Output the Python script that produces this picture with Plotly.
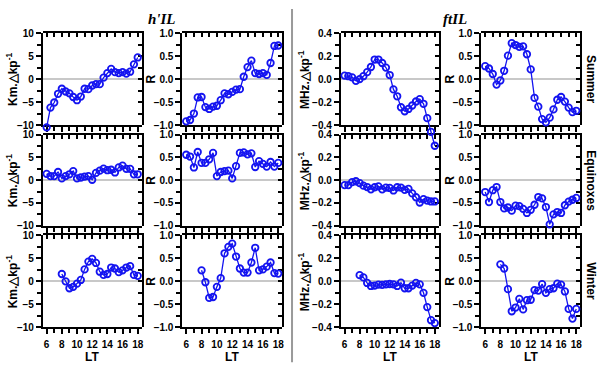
import plotly.graph_objects as go

# local time (hours)
lt = [6, 6.5, 7, 7.5, 8, 8.5, 9, 9.5, 10, 10.5, 11, 11.5, 12,
      12.5, 13, 13.5, 14, 14.5, 15, 15.5, 16, 16.5, 17, 17.5, 18]
lt_winter = lt[4:]

# h'IL : slope (Km/kp) and correlation R
hil_summer_slope = [-10.5, -6.2, -5.1, -3.2, -2.1, -2.7, -3.1, -3.9, -4.6, -3.8, -2.1, -2.2, -1.4,
                    -1.1, -1.1, 0.3, 1.3, 2.2, 1.5, 1.3, 1.5, 1.2, 1.6, 3.2, 4.7]
hil_summer_r = [-0.92, -0.89, -0.75, -0.40, -0.39, -0.61, -0.65, -0.60, -0.58, -0.46, -0.31, -0.33, -0.28,
                -0.23, -0.22, 0.05, 0.26, 0.40, 0.13, 0.11, 0.13, 0.09, 0.35, 0.72, 0.73]
hil_equinox_slope = [1.4, 0.9, 0.9, 1.8, 0.4, 0.9, 1.3, 2.0, 0.4, 0.6, 0.8, 0.9, 0.1,
                     1.6, 2.1, 2.55, 2.2, 2.3, 1.7, 2.8, 3.2, 2.5, 2.5, 1.3, 1.3]
hil_equinox_r = [0.56, 0.52, 0.28, 0.62, 0.38, 0.38, 0.46, 0.60, 0.09, 0.18, 0.20, 0.21, 0.04,
                 0.31, 0.60, 0.61, 0.57, 0.59, 0.29, 0.42, 0.36, 0.30, 0.40, 0.30, 0.38]
hil_winter_slope = [1.6, 0.0, -1.5, -1.2, -0.5, 0.3, 2.6, 4.3, 4.9, 4.0, 2.1, 1.4, 1.6,
                    3.0, 2.8, 2.0, 2.4, 3.0, 3.3, 1.4, 1.2]
hil_winter_r = [0.24, -0.02, -0.36, -0.34, -0.12, 0.07, 0.61, 0.75, 0.82, 0.54, 0.28, 0.19, 0.19,
                0.41, 0.73, 0.24, 0.26, 0.32, 0.41, 0.18, 0.17]

# ftIL : slope (MHz/kp) and correlation R
ftil_summer_slope = [0.03, 0.025, 0.015, -0.015, 0.0, 0.025, 0.06, 0.105, 0.17, 0.17, 0.14, 0.10, 0.035,
                     -0.09, -0.15, -0.245, -0.28, -0.26, -0.23, -0.195, -0.175, -0.215, -0.34, -0.46, -0.58]
ftil_summer_r = [0.28, 0.23, 0.11, -0.12, -0.03, 0.18, 0.51, 0.78, 0.74, 0.70, 0.71, 0.54, 0.21,
                 -0.41, -0.60, -0.87, -0.94, -0.84, -0.66, -0.45, -0.39, -0.49, -0.62, -0.72, -0.69]
ftil_equinox_slope = [-0.043, -0.043, -0.017, -0.009, -0.026, -0.048, -0.06, -0.08, -0.062, -0.054, -0.08,
                      -0.065, -0.068, -0.09, -0.062, -0.065, -0.085, -0.077, -0.116, -0.15, -0.196,
                      -0.167, -0.18, -0.187, -0.187]
ftil_equinox_r = [-0.26, -0.48, -0.22, -0.15, -0.48, -0.62, -0.60, -0.67, -0.56, -0.57, -0.63, -0.72, -0.65,
                  -0.54, -0.37, -0.40, -0.59, -0.97, -0.75, -0.70, -0.72, -0.55, -0.47, -0.43, -0.39]
ftil_winter_slope = [0.054, 0.034, -0.014, -0.04, -0.037, -0.028, -0.031, -0.026, -0.023, -0.026, -0.04,
                     -0.011, -0.06, -0.06, -0.037, -0.014, -0.026, -0.10, -0.224, -0.338, -0.363]
ftil_winter_r = [0.37, 0.28, -0.17, -0.65, -0.57, -0.38, -0.61, -0.41, -0.40, -0.19, -0.20, -0.06, -0.25,
                 -0.17, -0.15, -0.05, -0.07, -0.22, -0.60, -0.81, -0.60]

seasons = ["Summer", "Equinoxes", "Winter"]
col_kinds = ["km", "r", "mhz", "r"]
ytitles = ["Km.\u25b3kp<sup>-1</sup>", "R", "MHz.\u25b3kp<sup>-1</sup>", "R"]

grid = [
    [(lt, hil_summer_slope), (lt, hil_summer_r), (lt, ftil_summer_slope), (lt, ftil_summer_r)],
    [(lt, hil_equinox_slope), (lt, hil_equinox_r), (lt, ftil_equinox_slope), (lt, ftil_equinox_r)],
    [(lt_winter, hil_winter_slope), (lt_winter, hil_winter_r),
     (lt_winter, ftil_winter_slope), (lt_winter, ftil_winter_r)],
]

scales = {
    "km": dict(range=[-10, 10], dtick=5, minor=2.5, fmt="d"),
    "r": dict(range=[-1, 1], dtick=0.5, minor=0.25, fmt=".1f"),
    "mhz": dict(range=[-0.4, 0.4], dtick=0.2, minor=0.1, fmt=".1f"),
}

W, H = 600, 373
col_px = [(43, 142), (183, 283), (342, 440), (483, 582)]
row_px = [(28, 123), (133, 227), (237, 332)]
XR = [5.5, 18.5]
BLUE = "#1414f0"
tickfont = dict(family="Liberation Sans, Arial", size=10, color="black", weight="bold")


def sfx(i):
    return "" if i == 1 else str(i)


def dummy(xa, ya):
    return go.Scatter(x=[None], y=[None], xaxis=xa, yaxis=ya, showlegend=False,
                      hoverinfo="skip", mode="markers")


fig = go.Figure()
layout = {}
annotations = []
n = 12
k = 0
for r in range(3):
    for c in range(4):
        k += 1
        sc = scales[col_kinds[c]]
        x0, x1 = col_px[c][0] / W, col_px[c][1] / W
        y0, y1 = 1 - row_px[r][1] / H, 1 - row_px[r][0] / H
        bottom = r == 2
        xk, yk = "x" + sfx(k), "y" + sfx(k)
        xt, yt = f"x{k + n}", f"y{k + n}"
        xh, yh = f"x{k + 2 * n}", f"y{k + 2 * n}"

        common = dict(showline=True, linewidth=2, linecolor="black", showgrid=False,
                      tickwidth=1.5, tickcolor="black", tickfont=tickfont, fixedrange=True)

        def xminor(t):
            return dict(dtick=1, tick0=6, ticks=t, ticklen=4, tickwidth=1.5, tickcolor="black")

        def yminor(t):
            return dict(dtick=sc["minor"], tick0=0, ticks=t, ticklen=4, tickwidth=1.5,
                        tickcolor="black")

        # bottom / left axes with labels
        layout["xaxis" + sfx(k)] = dict(
            common, domain=[x0, x1], anchor=yk, range=XR, dtick=2, tick0=6, ticks="outside",
            ticklen=5, showticklabels=bottom, ticklabelstandoff=2, zeroline=False,
            minor=xminor("outside"))
        layout["yaxis" + sfx(k)] = dict(
            common, domain=[y0, y1], anchor=xk, range=sc["range"], dtick=sc["dtick"], tick0=0,
            tickformat=sc["fmt"], ticks="outside", ticklen=5,
            zeroline=True, zerolinecolor="#c8c8c8", zerolinewidth=1.5, minor=yminor("outside"))
        # top / right frame with inward ticks
        layout[f"xaxis{k + n}"] = dict(
            common, domain=[x0, x1], anchor=yt, side="top", range=XR, dtick=2, tick0=6,
            ticks="inside", ticklen=4, showticklabels=False, zeroline=False, minor=xminor("inside"))
        layout[f"yaxis{k + n}"] = dict(
            common, domain=[y0, y1], anchor=xt, side="right", range=sc["range"], dtick=sc["dtick"],
            tick0=0, ticks="inside", ticklen=4, showticklabels=False, zeroline=False,
            minor=yminor("inside"))

        # hidden pair with the same scale but a taller domain, so lines may run past the frame
        a, b = sc["range"]
        s = (b - a) / (y1 - y0)
        ext_lo, ext_hi = 0.08, 0.02
        layout[f"xaxis{k + 2 * n}"] = dict(domain=[x0, x1], anchor=yh, range=XR, visible=False,
                                           fixedrange=True)
        layout[f"yaxis{k + 2 * n}"] = dict(domain=[y0 - ext_lo, y1 + ext_hi], anchor=xh,
                                           range=[a - ext_lo * s, b + ext_hi * s], visible=False,
                                           fixedrange=True)

        fig.add_trace(dummy(xk, yk))
        fig.add_trace(dummy(xt, yt))

        xs, ys = grid[r][c]
        fig.add_trace(go.Scatter(
            x=xs, y=ys, xaxis=xh, yaxis=yh,
            mode="lines+markers", cliponaxis=False, showlegend=False, hoverinfo="skip",
            line=dict(color=BLUE, width=1.3),
            marker=dict(symbol="circle-open", size=6.5, color=BLUE, line=dict(width=1.8)),
        ))

        # y axis title
        tx = {0: 12, 1: 152, 2: 305, 3: 452}[c]
        annotations.append(dict(
            text=ytitles[c], x=tx / W, y=(y0 + y1) / 2, xref="paper", yref="paper",
            textangle=-90, showarrow=False, xanchor="center", yanchor="middle",
            font=dict(family="Liberation Sans, Arial", size=12, color="black", weight="bold")))

        if bottom:
            annotations.append(dict(
                text="LT", x=(x0 + x1) / 2, y=1 - 363 / H, xref="paper", yref="paper",
                showarrow=False, xanchor="center", yanchor="middle",
                font=dict(family="Liberation Sans, Arial", size=12, color="black", weight="bold")))

    annotations.append(dict(
        text=seasons[r], x=593 / W, y=1 - (row_px[r][0] + row_px[r][1]) / 2 / H,
        xref="paper", yref="paper", textangle=90, showarrow=False,
        xanchor="center", yanchor="middle",
        font=dict(family="Liberation Sans, Arial", size=12, color="black", weight="bold")))

for label, px in [("h'IL", 163), ("ftIL", 457)]:
    annotations.append(dict(
        text=f"<b><i>{label}</i></b>", x=px / W, y=1 - 13 / H, xref="paper", yref="paper",
        showarrow=False, xanchor="center", yanchor="middle",
        font=dict(family="Liberation Serif, Times New Roman", size=15, color="black")))

fig.update_layout(
    **layout,
    width=W, height=H,
    margin=dict(l=0, r=0, t=0, b=0),
    plot_bgcolor="rgba(0,0,0,0)",
    paper_bgcolor="white",
    annotations=annotations,
    shapes=[dict(type="line", xref="paper", yref="paper", x0=293 / W, x1=293 / W,
                 y0=1 - 368 / H, y1=1 - 3 / H, line=dict(color="#9a9a9a", width=2))],
)

fig.write_html("out.html", config={"displayModeBar": False},
               post_script="document.body.style.margin='0';")
